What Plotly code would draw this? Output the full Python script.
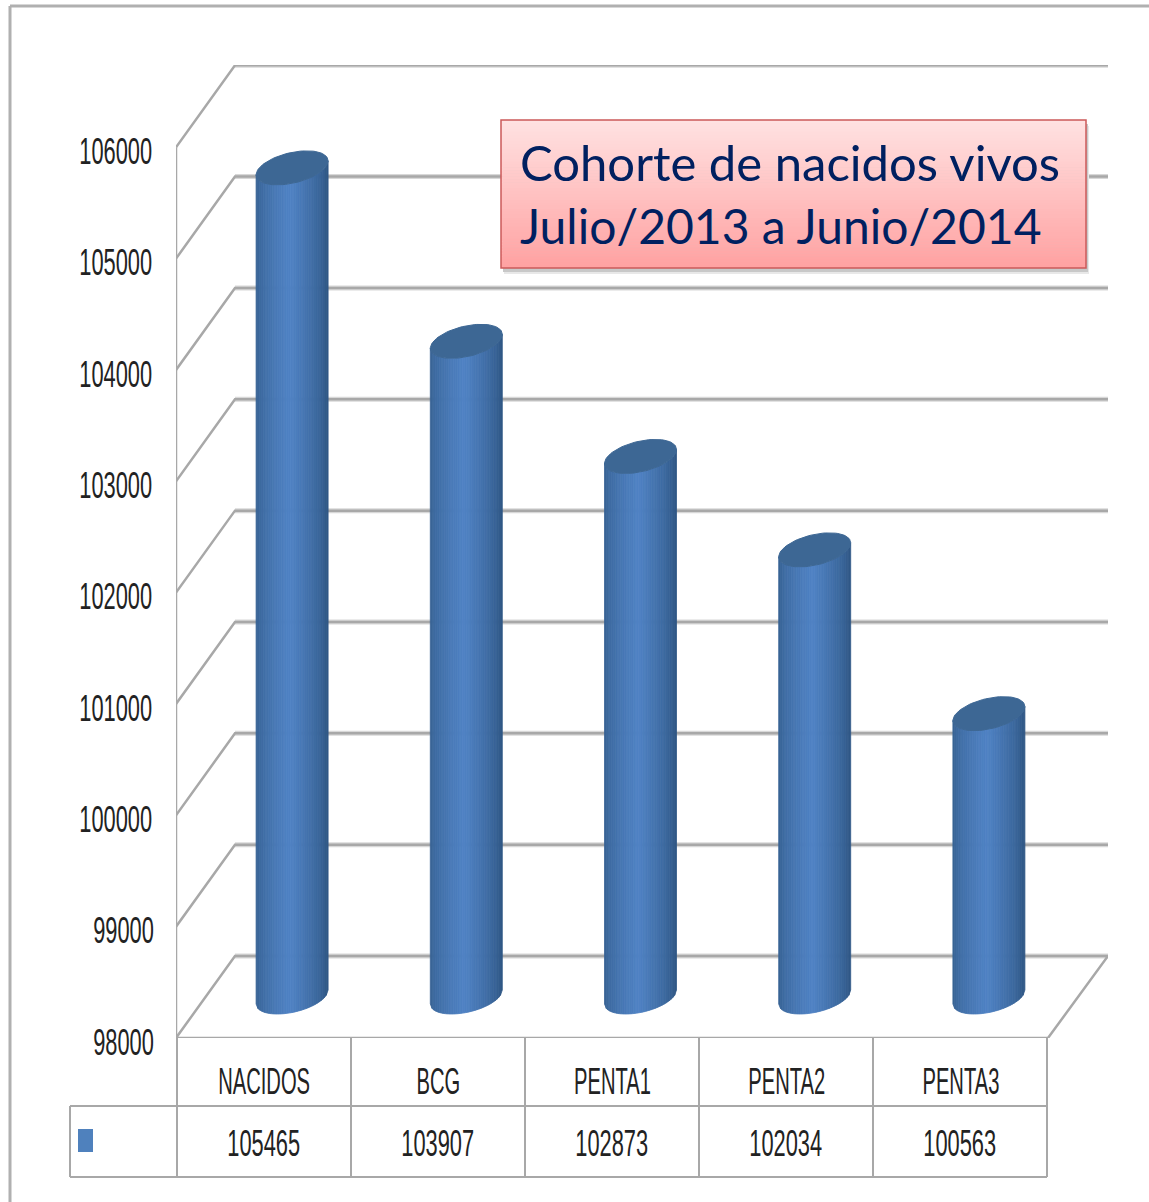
import plotly.graph_objects as go
import numpy as np

categories = ["NACIDOS", "BCG", "PENTA1", "PENTA2", "PENTA3"]
values = [105465, 103907, 102873, 102034, 100563]
y_ticks = [98000, 99000, 100000, 101000, 102000, 103000, 104000, 105000, 106000]
title_lines = ["Cohorte de nacidos vivos", "Julio/2013 a Junio/2014"]

W, H = 1149, 1202
AX_L, AX_R, AX_T, AX_B = 176, 1108, 65, 1038
PX_CAT = 174.2
PX_VAL = 0.11134
X0 = 264.1
xmin = (AX_L - X0) / PX_CAT
xmax = (AX_R - X0) / PX_CAT
ymin = y_ticks[0]
ymax = ymin + (AX_B - AX_T) / PX_VAL
def X(px): return (px - X0) / PX_CAT
def PY(px): return (AX_B - px) / (AX_B - AX_T)
def PXP(px): return (px - AX_L) / (AX_R - AX_L)
DX = 59 / PX_CAT
DY = 82 / PX_VAL
FLOOR_R = X(1048)

FONT = "Liberation Sans, Arial, sans-serif"
GRID = "#a8a8a8"
TXT = "#222222"

fig = go.Figure()

# walls and gridlines
gx, gy, hx, hy = [], [], [], []
for v in y_ticks:
    gx += [xmin, xmin + DX, xmax, None]
    gy += [v, v + DY, v + DY, None]
    hx += [xmin + DX, xmax, None]
    hy += [v + DY, v + DY, None]
fig.add_trace(go.Scatter(x=hx, y=hy, mode="lines", line=dict(color="#d8d8d8", width=5),
                         hoverinfo="skip", showlegend=False, cliponaxis=False))
fig.add_trace(go.Scatter(x=gx, y=gy, mode="lines", line=dict(color=GRID, width=2.5),
                         hoverinfo="skip", showlegend=False, cliponaxis=False))
# left wall edge and floor outline
fig.add_trace(go.Scatter(x=[xmin, xmin, FLOOR_R, xmax], y=[y_ticks[-1], ymin, ymin, ymin + DY], mode="lines",
                         line=dict(color=GRID, width=2.5), hoverinfo="skip",
                         showlegend=False, cliponaxis=False))

# cylinders
R = 36 / PX_CAT
S = 7 / PX_VAL
Hh = 15.5 / PX_VAL
BAR_DX = 28 / PX_CAT
BASE_DY = 41 / PX_VAL
TOP_DY = 39 / PX_VAL
N = 40
edges = np.linspace(-1, 1, N + 1)
def shade(u):
    left = np.array([0x36, 0x60, 0x90])
    right = np.array([0x2e, 0x55, 0x82])
    light = np.array([0x50, 0x83, 0xc5])
    c0 = -0.05
    if u < c0:
        t = (u + 1) / (c0 + 1)
        col = left + (light - left) * min(1, t ** 0.6)
    else:
        t = (1 - u) / (1 - c0)
        col = right + (light - right) * min(1, t ** 0.7)
    return "rgb(%d,%d,%d)" % tuple(col)

for i in range(N):
    u1, u2 = edges[i], edges[i + 1]
    px_, py_ = [], []
    for c, v in enumerate(values):
        cx = c + BAR_DX
        off1 = S * u1 - Hh * np.sqrt(max(0, 1 - u1 ** 2))
        off2 = S * u2 - Hh * np.sqrt(max(0, 1 - u2 ** 2))
        base = ymin + BASE_DY
        top = v + TOP_DY
        px_ += [cx + R * u1, cx + R * u2, cx + R * u2, cx + R * u1, cx + R * u1, None]
        py_ += [base + off1, base + off2, top + off2, top + off1, base + off1, None]
    col = shade((u1 + u2) / 2)
    fig.add_trace(go.Scatter(x=px_, y=py_, mode="lines", fill="toself", fillcolor=col,
                             line=dict(color=col, width=0.8), hoverinfo="skip",
                             showlegend=False, cliponaxis=False))

t = np.linspace(0, 2 * np.pi, 80)
cap_x, cap_y = [], []
for c, v in enumerate(values):
    cap_x += list(c + BAR_DX + R * np.cos(t)) + [None]
    cap_y += list(v + TOP_DY + S * np.cos(t) + Hh * np.sin(t)) + [None]
fig.add_trace(go.Scatter(x=cap_x, y=cap_y, mode="lines", fill="toself", fillcolor="#3d6794",
                         line=dict(color="#3d6794", width=1), hoverinfo="skip",
                         showlegend=False, cliponaxis=False))

# data table
shapes = []
def pline(x0, y0, x1, y1, color=GRID, width=2):
    shapes.append(dict(type="line", xref="paper", yref="paper", x0=PXP(x0), x1=PXP(x1), y0=PY(y0), y1=PY(y1),
                       line=dict(color=color, width=width), layer="above"))
pline(70, 1106, 1047, 1106)
pline(70, 1177, 1047, 1177)
for k in range(len(categories) + 1):
    xk = 177 + k * 174
    pline(xk, 1038, xk, 1177)
pline(70, 1106, 70, 1177)
shapes.append(dict(type="rect", xref="paper", yref="paper", x0=PXP(78), x1=PXP(93), y0=PY(1129), y1=PY(1152),
                   fillcolor="#4f81bd", line=dict(width=0), layer="above"))

# outer frame
pline(10, 6, W, 6, "#b0b0b0", 3)
pline(10, 6, 10, H, "#b0b0b0", 3)

# title box
for off, col in [(6, "#e8e8e8"), (4, "#c8c8c8")]:
    shapes.append(dict(type="rect", xref="paper", yref="paper", x0=PXP(501 + off / 2), x1=PXP(1086 + off / 2),
                       y0=PY(120 + off), y1=PY(268 + off), fillcolor=col, line=dict(width=0), layer="above"))
steps = 50
top_c, bot_c = np.array([0xff, 0xe2, 0xe2]), np.array([0xff, 0xa2, 0xa2])
for s in range(steps):
    f = s / (steps - 1)
    c = top_c + (bot_c - top_c) * f
    y0 = 120 + 148 * s / steps
    y1 = 120 + 148 * (s + 1) / steps + 0.5
    shapes.append(dict(type="rect", xref="paper", yref="paper", x0=PXP(501), x1=PXP(1086),
                       y0=PY(y0), y1=PY(min(y1, 268)), fillcolor="rgb(%d,%d,%d)" % tuple(c),
                       line=dict(width=0), layer="above"))
shapes.append(dict(type="rect", xref="paper", yref="paper", x0=PXP(501), x1=PXP(1086), y0=PY(120), y1=PY(268),
                   fillcolor="rgba(0,0,0,0)", line=dict(color="#cc5a5a", width=1.5), layer="above"))

annotations = []
for line, yc, fs in zip(title_lines, [162, 226], [49, 48]):
    annotations.append(dict(text=line, xref="paper", yref="paper", x=PXP(518), y=PY(yc), xanchor="left",
                            yanchor="middle", showarrow=False,
                            font=dict(family="Lato, sans-serif", size=fs, color="#002060")))
for c, v in enumerate(values):
    annotations.append(dict(text=str(v), xref="x", yref="paper", x=c - 0.006, y=PY(1143), xanchor="center",
                            yanchor="middle", showarrow=False, font=dict(family=FONT, size=28, color=TXT)))

fig.update_layout(
    width=W, height=H, paper_bgcolor="white", plot_bgcolor="white", showlegend=False,
    margin=dict(l=AX_L, r=W - AX_R, t=AX_T, b=H - AX_B, autoexpand=False),
    shapes=shapes, annotations=annotations,
    xaxis=dict(range=[xmin, xmax], tickmode="array", tickvals=list(range(len(categories))),
               ticktext=categories, showgrid=False, zeroline=False, showline=False,
               ticks="outside", ticklen=18, tickcolor="rgba(0,0,0,0)",
               tickfont=dict(family=FONT, size=28, color=TXT)),
    yaxis=dict(range=[ymin, ymax], tickmode="array", tickvals=y_ticks,
               ticktext=[str(v) for v in y_ticks], showgrid=False, zeroline=False, showline=False,
               ticks="outside", ticklen=7, ticklabelshift=4,
               tickcolor="rgba(0,0,0,0)", tickfont=dict(family=FONT, size=28, color=TXT)),
)
# the reference's labels are tall and condensed; no narrow face is installed, so squeeze the real text
post = """
document.body.style.margin='0';
function sq(el,sx,sy){
 var a=el.getAttribute('transform')||'', m=a.match(/translate\\(\\s*(-?[0-9.]+)[ ,]*(-?[0-9.]*)\\s*\\)/), tr='';
 if(m) tr='translate('+m[1]+'px,'+(m[2]||0)+'px) ';
 el.style.transformBox='fill-box';el.style.transformOrigin='center';
 el.style.transform=tr+'scale('+sx+','+sy+')';}
document.querySelectorAll('.ytick text').forEach(function(e){sq(e,0.78,1.3);});
document.querySelectorAll('.xtick text').forEach(function(e){sq(e,0.72,1.3);});
document.querySelectorAll('.annotation-text').forEach(function(e){
 if(/^[0-9]+$/.test(e.textContent)) sq(e,0.78,1.3);});
"""
fig.write_html("out.html", post_script=post, config={"displayModeBar": False})
